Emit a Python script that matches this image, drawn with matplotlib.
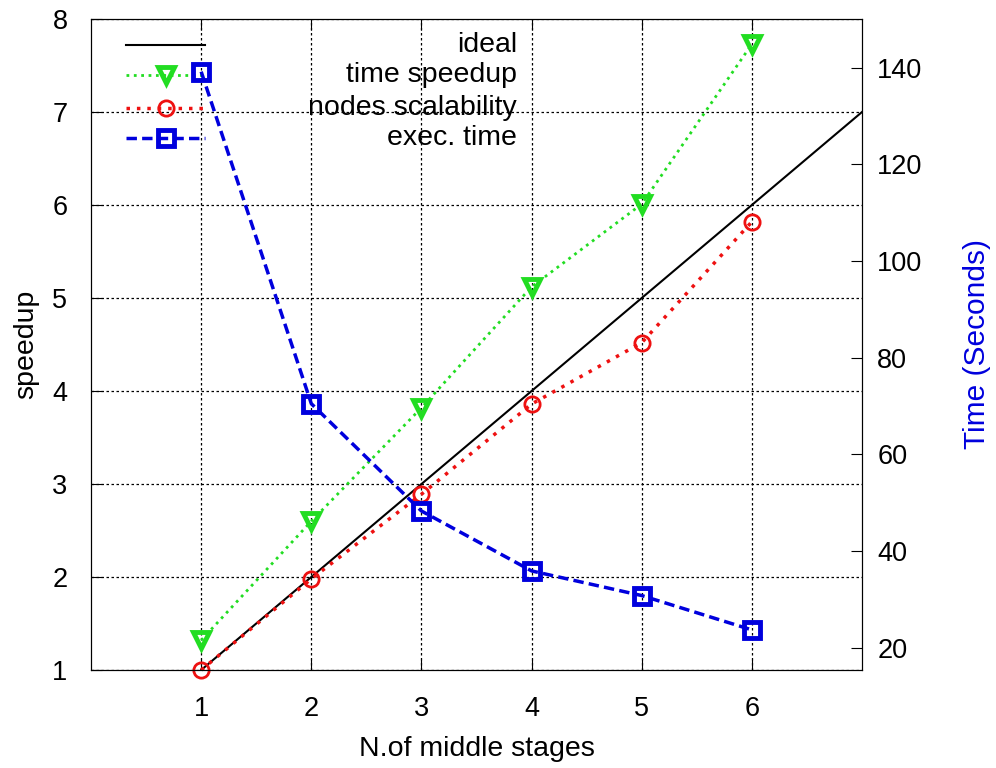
import matplotlib
matplotlib.use("Agg")
import matplotlib.pyplot as plt

plt.rcParams["font.family"] = ["Liberation Sans", "DejaVu Sans"]

stages = [1, 2, 3, 4, 5, 6]
ideal_x = [1, 7]
ideal_y = [1, 7]
time_speedup = [1.32, 2.60, 3.82, 5.12, 6.01, 7.73]
nodes_scal = [1.00, 1.98, 2.89, 3.86, 4.52, 5.82]
exec_time = [139.2, 70.5, 48.3, 35.9, 30.8, 23.7]

labels = ["ideal", "time speedup", "nodes scalability", "exec. time"]

green = "#22dd22"
red = "#ee1111"
blue = "#0000dd"

fig = plt.figure(figsize=(9.96, 7.68), dpi=100)
ax = fig.add_axes([0.0914, 0.1276, 0.7741, 0.8477])
ax2 = ax.twinx()

ax.plot(ideal_x, ideal_y, color="black", lw=1.5)
ax.plot(stages, time_speedup, color=green, ls=":", lw=2,
        marker="v", ms=11, mfc="none", mew=3.5, clip_on=False)
ax.plot(stages, nodes_scal, color=red, ls=(0, (1, 2)), lw=2.5,
        marker="o", ms=11, mfc="none", mew=2, clip_on=False)
ax2.plot(stages, exec_time, color=blue, ls=(0, (3, 1.5)), lw=2.5,
         marker="s", ms=12, mfc="none", mew=3.5, clip_on=False)

ax.set_xlim(0, 7)
ax.set_ylim(1, 8)
ax2.set_ylim(15.4, 150.1)

ax.set_xticks(stages)
ax.set_yticks(range(1, 9))
ax2.set_yticks(range(20, 141, 20))

ax.grid(True, color="black", ls=(0, (2, 2)), lw=0.9)
ax.tick_params(axis="x", direction="in", top=True, length=8, pad=19,
               labelsize=19.5)
ax.tick_params(axis="y", direction="in", right=False, length=8, pad=17,
               labelsize=19.5)
ax2.tick_params(axis="y", direction="in", length=8, pad=11, labelsize=19.5)

ax.set_xlabel("N.of middle stages", fontsize=20.5, labelpad=10)
ax.set_ylabel("speedup", fontsize=20.5, labelpad=9)
ax2.set_ylabel("Time (Seconds)", fontsize=21.5, color=blue, labelpad=29)

# gnuplot-style key: samples on the left, text right-aligned
styles = [
    dict(color="black", lw=1.5),
    dict(color=green, ls=":", lw=2, marker="v", ms=11, mfc="none", mew=3.5),
    dict(color=red, ls=(0, (1, 2)), lw=2.5, marker="o", ms=11, mfc="none", mew=2),
    dict(color=blue, ls=(0, (3, 1.5)), lw=2.5, marker="s", ms=12, mfc="none", mew=3.5),
]
rows = [0.960, 0.914, 0.863, 0.817]
for lab, st, yy in zip(labels, styles, rows):
    mk = st.pop("marker", None)
    ax.plot([0.045, 0.097, 0.148], [yy, yy, yy], transform=ax.transAxes,
            marker=mk, markevery=[1], clip_on=False, **st)
    ax.text(0.5525, yy, lab, transform=ax.transAxes, ha="right",
            va="center", fontsize=20.5)

fig.savefig("out.png", dpi=100)
